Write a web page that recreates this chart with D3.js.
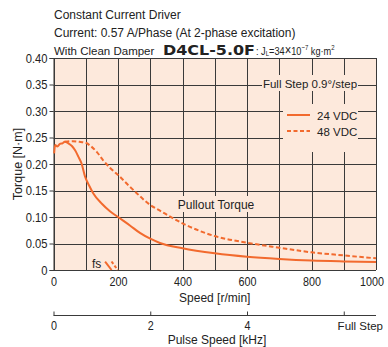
<!DOCTYPE html>
<html>
<head>
<meta charset="utf-8">
<script src="https://cdn.jsdelivr.net/npm/d3@7"></script>
<style>
  html, body { margin: 0; padding: 0; background: #fff; }
  svg { display: block; font-family: "Liberation Sans", Arial, sans-serif; }
</style>
</head>
<body>
<svg id="chart" width="388" height="347"></svg>
<script>
// Pullout torque, 24 VDC supply (speed in r/min, torque in N·m)
const speed24  = [2, 5, 12, 20, 28, 35, 46, 57, 67, 77, 87, 98, 110, 123, 150, 175, 200, 237, 268, 300, 330, 400, 500, 600, 700, 800, 900, 1000];
const torque24 = [0.220, 0.236, 0.233, 0.238, 0.239, 0.242, 0.239, 0.234, 0.226, 0.214, 0.201, 0.176, 0.160, 0.145, 0.125, 0.111, 0.100, 0.084, 0.070, 0.059, 0.051, 0.041, 0.0315, 0.025, 0.0208, 0.0178, 0.0162, 0.0151];
// Pullout torque, 48 VDC supply
const speed48  = [35, 60, 80, 100, 115, 134, 154, 175, 206, 232, 258, 299, 330, 400, 500, 600, 700, 800, 900, 1000];
const torque48 = [0.242, 0.243, 0.242, 0.240, 0.234, 0.223, 0.207, 0.193, 0.176, 0.160, 0.145, 0.123, 0.112, 0.088, 0.064, 0.0515, 0.042, 0.0333, 0.0275, 0.022];
// Maximum starting frequency (fs) marks
const fsSpeed24  = [160, 180];
const fsTorque24 = [0.016, 0];
const fsSpeed48  = [180, 199];
const fsTorque48 = [0.016, 0];

// Axis ticks
const speedTicks  = [0, 200, 400, 600, 800, 1000];
const gridSpeeds  = d3.range(0, 1001, 100);
const torqueTicks = [0, 0.05, 0.10, 0.15, 0.20, 0.25, 0.30, 0.35, 0.40];
const torqueLabels = ["0", "0.05", "0.10", "0.15", "0.20", "0.25", "0.30", "0.35", "0.40"];
const pulseTicks  = [0, 2, 4, 6];
const pulseLabels = ["0", "2", "4", "Full Step"];
const fullStepKHz = 1000 / 60 * 400 / 1000;   // 0.9°/step → 400 pulses per revolution

const ORANGE = "#f26a2e";
const BG = "#fde9dc";
const GRID = "#3a3a3a";
const INK = "#222";

const svg = d3.select("#chart");
const W = 388;
const L = 53.5, R = 376, T = 58, B = 270;

const x = d3.scaleLinear().domain([0, 1000]).range([L, R]);
const y = d3.scaleLinear().domain([0, 0.40]).range([B, T]);
const xp = d3.scaleLinear().domain([0, fullStepKHz]).range([L, R]);

// Squeeze a text's glyphs horizontally (condensed look)
function condense(sel, k) {
  sel.each(function () {
    const w = this.getComputedTextLength();
    d3.select(this).attr("textLength", w * k).attr("lengthAdjust", "spacingAndGlyphs");
  });
}

// Anchor a tick label at its end when its full width would run past the page edge
function keepInside(sel, margin) {
  sel.each(function () {
    const t = d3.select(this);
    const parentX = +this.parentNode.getAttribute("transform").match(/translate\(([-\d.]+)/)[1];
    const w = this.getComputedTextLength();
    const anchor = t.attr("text-anchor") || "middle";
    const dx = +(t.attr("dx") || 0);
    const start = anchor === "start" ? parentX + dx : parentX - w / 2;
    if (start + w > W - margin) {
      t.attr("text-anchor", "end").attr("x", W - margin - parentX).attr("dx", 0);
    }
  });
}

// Header
const head = svg.append("g").attr("fill", INK).attr("font-size", 12);
head.append("text").attr("x", 54).attr("y", 19).text("Constant Current Driver");
head.append("text").attr("x", 54).attr("y", 37).text("Current: 0.57 A/Phase (At 2-phase excitation)");
head.append("text").attr("x", 54).attr("y", 55).attr("font-size", 11.5).text("With Clean Damper");
head.append("text").attr("x", 163).attr("y", 55)
  .attr("font-family", "'DejaVu Sans', sans-serif").attr("font-weight", "bold").attr("font-size", 13.5)
  .attr("textLength", 92).attr("lengthAdjust", "spacingAndGlyphs").text("D4CL-5.0F");
const inert = head.append("g").attr("transform", "translate(256,55) scale(0.8,1)")
  .append("text").attr("font-size", 11.5);
inert.append("tspan").text(": J");
inert.append("tspan").attr("font-size", 7.5).attr("dy", 1).text("L");
inert.append("tspan").attr("dy", -1).text("=34");
inert.append("tspan").attr("font-size", 14).text("×");
inert.append("tspan").text("10");
inert.append("tspan").attr("font-size", 7.5).attr("dy", -5).text("−7");
inert.append("tspan").attr("dy", 5).text(" kg·m");
inert.append("tspan").attr("font-size", 7.5).attr("dy", -5).text("2");

// Plot background
svg.append("rect").attr("x", L).attr("y", T).attr("width", R - L).attr("height", B - T).attr("fill", BG);

// Grid
const grid = svg.append("g").attr("stroke", GRID).attr("stroke-width", 1);
grid.selectAll("line.v").data(gridSpeeds).join("line")
  .attr("x1", d => Math.round(x(d)) + 0.5).attr("x2", d => Math.round(x(d)) + 0.5)
  .attr("y1", T).attr("y2", B);
grid.selectAll("line.h").data(torqueTicks).join("line")
  .attr("x1", L).attr("x2", R)
  .attr("y1", d => Math.round(y(d)) + 0.5).attr("y2", d => Math.round(y(d)) + 0.5);

// Label patches over the grid
svg.append("rect").attr("x", 262).attr("y", 75).attr("width", 96).attr("height", 16).attr("fill", BG);
svg.append("rect").attr("x", 283).attr("y", 104).attr("width", 75).attr("height", 48).attr("fill", BG);
svg.append("rect").attr("x", 175).attr("y", 196).attr("width", 82).attr("height", 16).attr("fill", BG);

// Y axis
const yAxis = d3.axisLeft(y).tickValues(torqueTicks).tickSize(4).tickPadding(2)
  .tickFormat((d, i) => torqueLabels[i]);
const gy = svg.append("g").attr("transform", `translate(${L},0)`).call(yAxis);
gy.select(".domain").attr("stroke", GRID);
gy.selectAll(".tick line").attr("stroke", GRID);
gy.selectAll(".tick text").attr("font-size", 13).attr("fill", INK)
  .attr("font-family", "'Liberation Sans', Arial, sans-serif").call(condense, 0.86);

// X axis (speed)
const xAxis = d3.axisBottom(x).tickValues(speedTicks).tickSize(0).tickPadding(7.5).tickFormat(d3.format("d"));
const gx = svg.append("g").attr("transform", `translate(0,${B})`).call(xAxis);
gx.select(".domain").remove();
gx.selectAll(".tick text").attr("font-size", 12.5).attr("fill", INK)
  .attr("font-family", "'Liberation Sans', Arial, sans-serif").call(keepInside, 4).call(condense, 0.86);

// Pulse speed axis
const lastPulse = pulseTicks.length - 1;
const pAxis = d3.axisTop(xp).tickValues(pulseTicks).tickSize(4).tickFormat((d, i) => pulseLabels[i]);
const gp = svg.append("g").attr("transform", `translate(0,315.5)`).call(pAxis);
gp.select(".domain").attr("stroke", GRID).attr("d", `M${L},0H${R}`);
gp.selectAll(".tick line").attr("stroke", GRID);
const pText = gp.selectAll(".tick text").attr("fill", INK)
  .attr("font-family", "'Liberation Sans', Arial, sans-serif")
  .attr("font-size", (d, i) => i === lastPulse ? 11.5 : 12.5)
  .attr("y", 14).attr("dy", 0)
  .attr("text-anchor", (d, i) => i === lastPulse ? "start" : "middle")
  .attr("dx", (d, i) => i === lastPulse ? -2 : 0)
  .call(keepInside, 5);
pText.filter((d, i) => i !== lastPulse).call(condense, 0.86);

// Axis titles
svg.append("text").attr("x", (L + R) / 2).attr("y", 302).attr("text-anchor", "middle")
  .attr("font-size", 12).attr("fill", INK).text("Speed [r/min]");
svg.append("text").attr("x", 217).attr("y", 344).attr("text-anchor", "middle")
  .attr("font-size", 12).attr("fill", INK).text("Pulse Speed [kHz]");
svg.append("text").attr("transform", `translate(22,${(T + B) / 2}) rotate(-90)`).attr("text-anchor", "middle")
  .attr("font-size", 12.5).attr("fill", INK).text("Torque [N·m]");

// Curves
const line = d3.line().x(d => x(d[0])).y(d => y(d[1])).curve(d3.curveMonotoneX);
const zip = (a, b) => a.map((v, i) => [v, b[i]]);
const curves = svg.append("g").attr("fill", "none").attr("stroke", ORANGE).attr("stroke-width", 2);
curves.append("path").attr("d", line(zip(speed48, torque48))).attr("stroke-dasharray", "4.5,2.5");
curves.append("path").attr("d", line(zip(speed24, torque24)));
const seg = d3.line().x(d => x(d[0])).y(d => y(d[1]));
curves.append("path").attr("d", seg(zip(fsSpeed24, fsTorque24)));
curves.append("path").attr("d", seg(zip(fsSpeed48, fsTorque48))).attr("stroke-dasharray", "3,2");

// Plot labels
svg.append("text").attr("x", 216).attr("y", 208.5).attr("text-anchor", "middle")
  .attr("font-size", 12).attr("fill", INK).text("Pullout Torque");
svg.append("text").attr("x", 92).attr("y", 268).attr("font-size", 12).attr("fill", INK).text("fs");
svg.append("text").attr("x", 310).attr("y", 87.5).attr("text-anchor", "middle")
  .attr("font-size", 11.5).attr("fill", INK).text("Full Step 0.9°/step");

// Legend
const legend = [{label: "24 VDC", dash: null}, {label: "48 VDC", dash: "4,2.5"}];
const lg = svg.append("g").selectAll("g").data(legend).join("g")
  .attr("transform", (d, i) => `translate(287,${115 + i * 16})`);
lg.append("line").attr("x1", 0).attr("x2", 23).attr("stroke", ORANGE).attr("stroke-width", 2)
  .attr("stroke-dasharray", d => d.dash);
lg.append("text").attr("x", 30).attr("y", 4.5).attr("font-size", 11.5).attr("fill", INK).text(d => d.label);
</script>
</body>
</html>
